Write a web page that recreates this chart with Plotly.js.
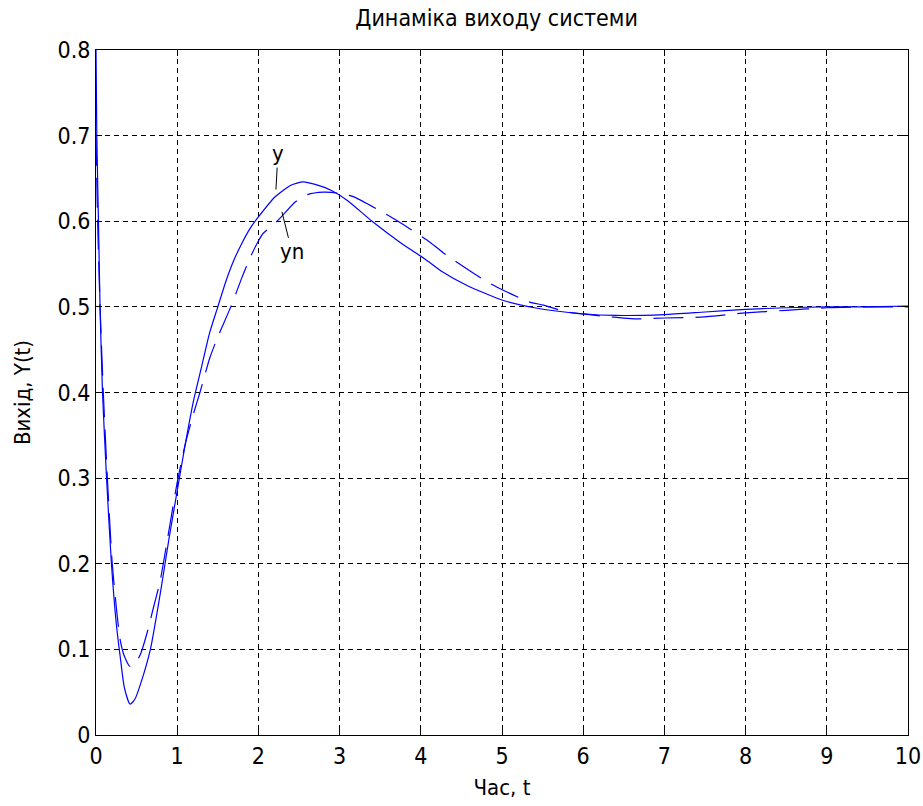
<!DOCTYPE html>
<html>
<head>
<meta charset="utf-8">
<script src="https://cdn.plot.ly/plotly-3.0.1.min.js"></script>
<style>html,body{margin:0;padding:0;background:#fff;}#chart{width:923px;height:806px;}</style>
</head>
<body>
<div id="chart"></div>
<script>
// Solid curve y(t)
const tY = [0, 0.01, 0.03, 0.05, 0.08, 0.13, 0.19, 0.25, 0.30, 0.35, 0.42, 0.48, 0.55, 0.67, 0.8, 0.9, 1.0, 1.1, 1.2, 1.3, 1.4, 1.5, 1.6, 1.7, 1.8, 1.9, 2.0, 2.2, 2.4, 2.55, 2.7, 2.9, 3.1, 3.4, 3.75, 4.05, 4.25, 4.57, 5.0, 5.4, 6.0, 6.4, 7.0, 7.5, 8.0, 8.5, 9.0, 9.5, 10];
const yVals = [0.8, 0.7, 0.6, 0.5, 0.4, 0.3, 0.2, 0.13, 0.09, 0.055, 0.036, 0.042, 0.06, 0.10, 0.17, 0.23, 0.285, 0.34, 0.39, 0.43, 0.47, 0.50, 0.53, 0.555, 0.575, 0.592, 0.605, 0.628, 0.642, 0.646, 0.643, 0.636, 0.624, 0.600, 0.575, 0.556, 0.542, 0.525, 0.508, 0.499, 0.492, 0.490, 0.491, 0.494, 0.497, 0.499, 0.500, 0.500, 0.501];
// Dashed curve yn(t)
const tYn = [0, 0.02, 0.05, 0.09, 0.14, 0.2, 0.26, 0.3, 0.35, 0.42, 0.48, 0.55, 0.64, 0.70, 0.79, 0.9, 1.0, 1.1, 1.2, 1.28, 1.4, 1.5, 1.66, 1.8, 1.9, 2.0, 2.06, 2.23, 2.46, 2.6, 2.8, 2.97, 3.16, 3.54, 3.72, 4.12, 4.28, 4.77, 4.94, 5.33, 5.51, 5.8, 6.37, 6.63, 7.0, 7.45, 8.0, 8.5, 9.0, 9.5, 10];
const ynVals = [0.7, 0.6, 0.5, 0.4, 0.3, 0.2, 0.14, 0.11, 0.092, 0.08, 0.083, 0.095, 0.123, 0.146, 0.18, 0.24, 0.295, 0.34, 0.375, 0.4, 0.44, 0.465, 0.5, 0.535, 0.558, 0.577, 0.586, 0.6, 0.623, 0.631, 0.634, 0.633, 0.629, 0.61, 0.6, 0.575, 0.563, 0.532, 0.523, 0.506, 0.502, 0.494, 0.488, 0.486, 0.487, 0.488, 0.493, 0.496, 0.499, 0.5, 0.5];

const xTicks = [0,1,2,3,4,5,6,7,8,9,10];
const yTicks = [0,0.1,0.2,0.3,0.4,0.5,0.6,0.7,0.8];
const yTickText = ['0','0.1','0.2','0.3','0.4','0.5','0.6','0.7','0.8'];

const titleText = 'Динаміка виходу системи';
const xLabel = 'Час, t';
const yLabel = 'Вихід, Y(t)';

const FONT = '"DejaVu Sans Condensed", "Liberation Sans", sans-serif';

const traces = [
  {x: tY, y: yVals, type: 'scatter', mode: 'lines', name: 'y',
   line: {color: '#0000ff', width: 1.2, shape: 'spline', smoothing: 0.6}},
  {x: tYn, y: ynVals, type: 'scatter', mode: 'lines', name: 'yn',
   line: {color: '#0000ff', width: 1.2, dash: '30px,12px', shape: 'spline', smoothing: 0.6}}
];

const axisCommon = {
  showline: true, linecolor: '#000', linewidth: 1, mirror: 'allticks',
  ticks: 'inside', ticklen: 6, tickcolor: '#000', tickwidth: 1,
  showgrid: true, gridcolor: '#000', gridwidth: 1, griddash: '5px,4px',
  zeroline: false, tickfont: {family: FONT, size: 23, color: '#000'}
};

const layout = {
  width: 923, height: 806,
  margin: {l: 96, r: 15, t: 50, b: 71},
  paper_bgcolor: '#fff', plot_bgcolor: '#fff',
  showlegend: false,
  title: {text: titleText, font: {family: FONT, size: 23, color: '#000'}, x: 0.538, xanchor: 'center', y: 0.978, yanchor: 'middle'},
  xaxis: Object.assign({}, axisCommon, {range: [0, 10], tickvals: xTicks, ticktext: xTicks.map(String),
    title: {text: xLabel, font: {family: FONT, size: 22, color: '#000'}, standoff: 12}}),
  yaxis: Object.assign({}, axisCommon, {range: [0, 0.8], tickvals: yTicks, ticktext: yTickText,
    title: {text: yLabel, font: {family: FONT, size: 22, color: '#000'}, standoff: 20}}),
  annotations: [
    {x: 2.216, y: 0.637, xref: 'x', yref: 'y', text: 'y', showarrow: true, arrowhead: 0, arrowwidth: 1, arrowcolor: '#000',
     ax: 2, ay: -36, font: {family: FONT, size: 22, color: '#000'}},
    {x: 2.29, y: 0.611, xref: 'x', yref: 'y', text: 'yn', showarrow: true, arrowhead: 0, arrowwidth: 1, arrowcolor: '#000',
     ax: 10, ay: 40, font: {family: FONT, size: 22, color: '#000'}}
  ]
};

Plotly.newPlot('chart', traces, layout, {displayModeBar: false, staticPlot: true});
</script>
</body>
</html>
